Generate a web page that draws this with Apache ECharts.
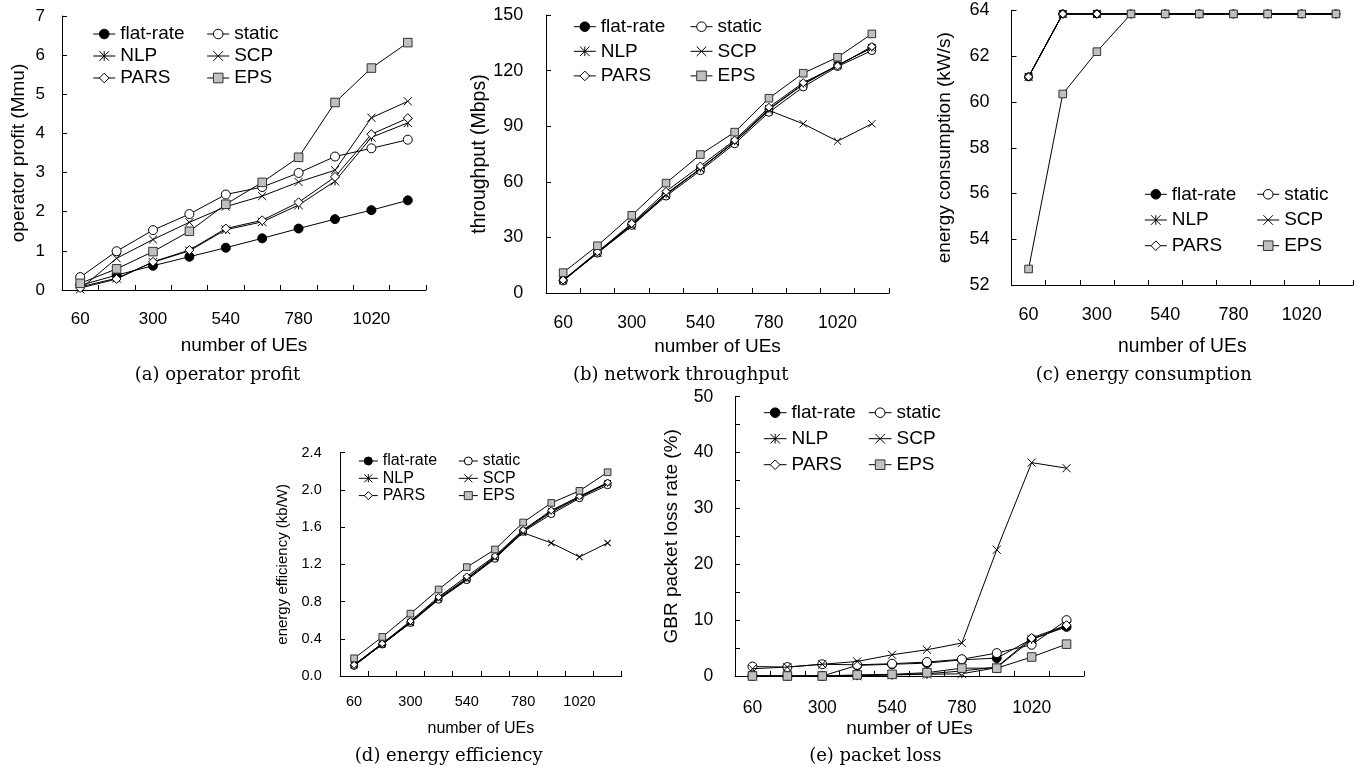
<!DOCTYPE html>
<html><head><meta charset="utf-8">
<script src="https://cdn.jsdelivr.net/npm/echarts/dist/echarts.min.js"></script>
<style>html,body{margin:0;padding:0;background:#fff}#chart{width:1366px;height:771px}</style>
</head><body><div id="chart"></div>
<script>
// ---------- data ----------
const categories = ['60','180','300','420','540','660','780','900','1020','1140'];
const seriesNames = ['flat-rate','static','NLP','SCP','PARS','EPS'];

// (a) operator profit (Mmu)
const profitFlatRate = [0.12, 0.38, 0.62, 0.85, 1.08, 1.32, 1.57, 1.81, 2.04, 2.29];
const profitStatic   = [0.33, 0.99, 1.53, 1.94, 2.44, 2.63, 2.99, 3.41, 3.62, 3.84];
const profitNLP      = [0.08, 0.30, 0.71, 1.00, 1.54, 1.74, 2.17, 2.78, 3.90, 4.27];
const profitSCP      = [0.02, 0.81, 1.29, 1.73, 2.13, 2.40, 2.76, 3.06, 4.40, 4.82];
const profitPARS     = [0.05, 0.28, 0.72, 1.02, 1.57, 1.78, 2.24, 2.89, 3.98, 4.39];
const profitEPS      = [0.17, 0.54, 0.98, 1.50, 2.19, 2.75, 3.39, 4.79, 5.67, 6.32];

// (b) network throughput (Mbps)
const thrFlatRate = [6.8, 21.8, 37.0, 53.5, 67.0, 81.5, 99.0, 112.5, 122.8, 132.5];
const thrStatic   = [6.5, 21.5, 36.5, 52.3, 66.0, 80.5, 97.5, 111.2, 122.2, 130.8];
const thrNLP      = [6.8, 21.8, 37.0, 53.2, 67.2, 81.8, 99.3, 112.8, 123.0, 132.2];
const thrSCP      = [6.8, 21.6, 36.0, 53.0, 67.0, 81.5, 98.5, 91.3, 81.9, 91.3];
const thrPARS     = [7.0, 22.2, 37.5, 54.8, 68.5, 82.5, 100.2, 113.5, 122.5, 133.0];
const thrEPS      = [11.0, 25.5, 41.9, 59.3, 74.7, 86.8, 105.1, 118.6, 127.2, 139.8];

// (c) energy consumption (kW/s)
const engFlatRate = [61.1, 63.85, 63.85, 63.85, 63.85, 63.85, 63.85, 63.85, 63.85, 63.85];
const engStatic   = [61.1, 63.85, 63.85, 63.85, 63.85, 63.85, 63.85, 63.85, 63.85, 63.85];
const engNLP      = [61.1, 63.85, 63.85, 63.85, 63.85, 63.85, 63.85, 63.85, 63.85, 63.85];
const engSCP      = [61.1, 63.85, 63.85, 63.85, 63.85, 63.85, 63.85, 63.85, 63.85, 63.85];
const engPARS     = [61.1, 63.85, 63.85, 63.85, 63.85, 63.85, 63.85, 63.85, 63.85, 63.85];
const engEPS      = [52.7, 60.35, 62.2, 63.85, 63.85, 63.85, 63.85, 63.85, 63.85, 63.85];

// (d) energy efficiency (kb/W)
const effFlatRate = [0.11, 0.34, 0.58, 0.83, 1.04, 1.27, 1.56, 1.76, 1.92, 2.07];
const effStatic   = [0.11, 0.34, 0.57, 0.82, 1.03, 1.26, 1.55, 1.74, 1.91, 2.05];
const effNLP      = [0.12, 0.35, 0.58, 0.84, 1.05, 1.28, 1.56, 1.77, 1.93, 2.07];
const effSCP      = [0.12, 0.34, 0.57, 0.83, 1.04, 1.27, 1.54, 1.43, 1.28, 1.43];
const effPARS     = [0.12, 0.35, 0.59, 0.85, 1.07, 1.29, 1.57, 1.78, 1.93, 2.08];
const effEPS      = [0.19, 0.42, 0.67, 0.93, 1.17, 1.36, 1.65, 1.86, 1.99, 2.19];

// (e) GBR packet loss rate (%)
const lossFlatRate = [0, 0, 0, 1.9, 2.1, 2.3, 2.9, 3.2, 6.6, 8.8];
const lossStatic   = [1.7, 1.6, 2.1, 2.0, 2.2, 2.5, 3.0, 4.1, 5.6, 10.0];
const lossNLP      = [0, 0, 0, 0, 0.2, 0.3, 0.4, 1.5, 6.5, 9.0];
const lossSCP      = [1.3, 1.6, 2.1, 2.6, 3.8, 4.7, 5.9, 22.6, 38.2, 37.2];
const lossPARS     = [0, 0, 0, 0.1, 0.2, 0.4, 0.9, 1.6, 6.8, 9.1];
const lossEPS      = [0, 0, 0, 0.2, 0.3, 0.6, 1.4, 1.4, 3.4, 5.7];

// ---------- styling ----------
const SANS = 'Liberation Sans, Arial, sans-serif';
const SERIF = 'DejaVu Serif, serif';
const markers = [
  {symbol: 'circle', fill: '#000', stroke: '#000', k: 1.0},
  {symbol: 'circle', fill: '#fff', stroke: '#000', k: 1.0},
  {symbol: 'path://M0,0L10,10M10,0L0,10M5,0L5,10', fill: '#000', stroke: '#000', k: 0.95},
  {symbol: 'path://M0,0L10,10M10,0L0,10', fill: '#000', stroke: '#000', k: 0.9},
  {symbol: 'diamond', fill: '#fff', stroke: '#000', k: 1.0},
  {symbol: 'rect', fill: '#c0c0c0', stroke: '#333', k: 0.95}
];

const panels = [
  {data: [profitFlatRate, profitStatic, profitNLP, profitSCP, profitPARS, profitEPS],
   grid: {left: 62, top: 16, width: 364, height: 274},
   y: {min: 0, max: 7, interval: 1, name: 'operator profit (Mmu)', gap: 34, font: 17, margin: 17, nameFont: 19},
   x: {font: 17, margin: 21, nameGap: 46, nameFont: 19},
   legend: {font: 19, iw: 22, ih: 12, gap: 3, l1: 92.7, l2: 206.7, top: 24.5},
   cap: {text: '(a) operator profit', x: 217.5, y: 375.7}, sym: 9},
  {data: [thrFlatRate, thrStatic, thrNLP, thrSCP, thrPARS, thrEPS],
   grid: {left: 546, top: 15, width: 343, height: 278},
   y: {min: 0, max: 150, interval: 30, name: 'throughput (Mbps)', gap: 56, font: 18, margin: 22.7, nameFont: 19.5},
   x: {font: 17.5, margin: 21.5, nameGap: 44, nameFont: 19},
   legend: {font: 19, iw: 22, ih: 12, gap: 5.6, l1: 573.3, l2: 690, top: 17.2},
   cap: {text: '(b) network throughput', x: 680.8, y: 375.7}, sym: 8},
  {data: [engFlatRate, engStatic, engNLP, engSCP, engPARS, engEPS],
   grid: {left: 1011.5, top: 10.5, width: 341.5, height: 274.5},
   y: {min: 52, max: 64, interval: 2, name: 'energy consumption (kW/s)', gap: 57, font: 18, margin: 22, nameFont: 19},
   x: {font: 18, margin: 21, nameGap: 52, nameFont: 19.3},
   legend: {font: 19, iw: 22, ih: 12, gap: 6.7, l1: 1144.3, l2: 1256.7, top: 184.8},
   cap: {text: '(c) energy consumption', x: 1143.7, y: 375.7}, sym: 8},
  {data: [effFlatRate, effStatic, effNLP, effSCP, effPARS, effEPS],
   grid: {left: 340, top: 452.7, width: 281.7, height: 223.3},
   y: {min: 0, max: 2.4, interval: 0.4, name: 'energy efficiency (kb/W)', gap: 50, font: 14.5, margin: 18.3, nameFont: 15, fixed: 1},
   x: {font: 14.5, margin: 18, nameGap: 44.3, nameFont: 16},
   legend: {font: 16, iw: 19, ih: 10, gap: 1.3, l1: 358.3, l2: 458.3, top: 453},
   cap: {text: '(d) energy efficiency', x: 448.7, y: 756.7}, sym: 7},
  {data: [lossFlatRate, lossStatic, lossNLP, lossSCP, lossPARS, lossEPS],
   grid: {left: 735, top: 396.7, width: 349, height: 279.3},
   y: {min: 0, max: 50, interval: 5, name: 'GBR packet loss rate (%)', gap: 53.5, font: 17.5, margin: 21.7, nameFont: 19, every: 10},
   x: {font: 17.5, margin: 23, nameGap: 42.8, nameFont: 19},
   legend: {font: 19, iw: 22.7, ih: 12, gap: 7, l1: 763.3, l2: 868.3, top: 403.2},
   cap: {text: '(e) packet loss', x: 875.3, y: 756.7}, sym: 9}
];

const option = {
  backgroundColor: '#fff',
  animation: false,
  grid: [], xAxis: [], yAxis: [], series: [], legend: [], graphic: []
};

panels.forEach((p, i) => {
  option.grid.push(Object.assign({containLabel: false, outerBoundsMode: 'none'}, p.grid));
  option.xAxis.push({
    gridIndex: i, type: 'category', data: categories, boundaryGap: true,
    axisLine: {show: true, lineStyle: {color: '#000', width: 1}},
    axisTick: {show: true, inside: true, length: 5, interval: 0, lineStyle: {color: '#000', width: 1}},
    axisLabel: {interval: 1, color: '#000', fontSize: p.x.font, fontFamily: SANS, margin: p.x.margin, hideOverlap: false},
    splitLine: {show: false},
    name: 'number of UEs', nameLocation: 'middle', nameGap: p.x.nameGap, nameMoveOverlap: false,
    nameTextStyle: {color: '#000', fontSize: p.x.nameFont, fontFamily: SANS}
  });
  option.yAxis.push({
    gridIndex: i, type: 'value', min: p.y.min, max: p.y.max, interval: p.y.interval,
    axisLine: {show: true, lineStyle: {color: '#000', width: 1}},
    axisTick: {show: true, inside: true, length: 5, lineStyle: {color: '#000', width: 1}},
    axisLabel: {
      color: '#000', fontSize: p.y.font, fontFamily: SANS, margin: p.y.margin, hideOverlap: false,
      showMinLabel: true, showMaxLabel: true,
      formatter: (v) => {
        if (p.y.every) return (Math.round(v) % p.y.every === 0) ? String(Math.round(v)) : '';
        if (p.y.fixed) return v.toFixed(p.y.fixed);
        return String(v);
      }
    },
    splitLine: {show: false},
    name: p.y.name, nameLocation: 'middle', nameGap: p.y.gap, nameMoveOverlap: false,
    nameTextStyle: {color: '#000', fontSize: p.y.nameFont, fontFamily: SANS}
  });
  seriesNames.forEach((name, j) => {
    const m = markers[j];
    option.series.push({
      type: 'line', name: name, xAxisIndex: i, yAxisIndex: i, data: p.data[j],
      symbol: m.symbol, symbolSize: p.sym * m.k, showSymbol: true,
      itemStyle: {color: m.fill, borderColor: m.stroke, borderWidth: 1},
      lineStyle: {color: '#000', width: 1},
      emphasis: {disabled: true}, silent: true, clip: false,
      z: 2 + j
    });
  });
  const L = p.legend;
  [[0, 2, 4], [1, 3, 5]].forEach((idx, c) => {
    option.legend.push({
      orient: 'vertical', left: c === 0 ? L.l1 : L.l2, top: L.top, padding: 0,
      itemWidth: L.iw, itemHeight: L.ih, itemGap: L.gap, selectedMode: false,
      lineStyle: {width: 1, color: '#000'},
      itemStyle: {borderWidth: 1},
      data: idx.map(k => seriesNames[k]),
      textStyle: {color: '#000', fontSize: L.font, fontFamily: SANS}
    });
  });
  option.graphic.push({
    type: 'text', x: p.cap.x, y: p.cap.y, silent: true,
    style: {text: p.cap.text, fill: '#000', font: '18px ' + SERIF,
            align: 'center', verticalAlign: 'middle', textAlign: 'center', textVerticalAlign: 'middle'}
  });
});

const chart = echarts.init(document.getElementById('chart'), null, {renderer: 'canvas'});
chart.setOption(option);
</script>
</body></html>
